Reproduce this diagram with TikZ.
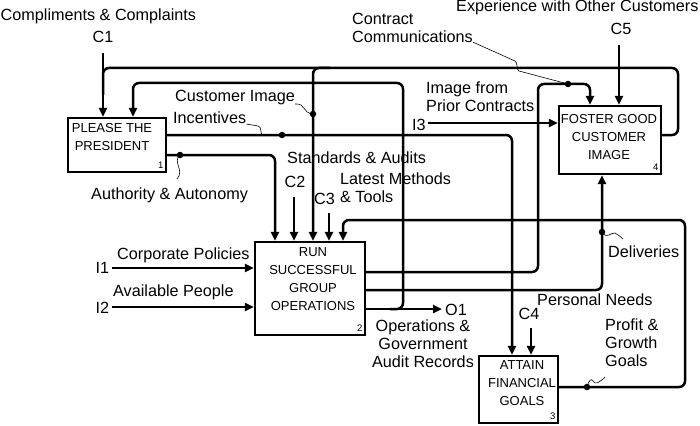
\documentclass[tikz,border=0pt]{standalone}
\usepackage{fontspec}
\setmainfont{Liberation Sans}
\usetikzlibrary{arrows.meta}
\begin{document}
\begin{tikzpicture}[x=1pt,y=-1pt,
  box/.style={draw, line width=2.3pt, inner sep=0pt},
  boxtext/.style={font=\fontsize{13}{18}\selectfont, align=center, inner sep=0pt},
  num/.style={font=\fontsize{9.5}{10}\selectfont, inner sep=0pt, anchor=south east},
  lbl/.style={font=\fontsize{16.2}{18}\selectfont, inner sep=0pt},
  flow/.style={line width=2.5pt, rounded corners=6pt},
  arr/.style={flow, -{Triangle[length=9pt,width=8pt]}},
  squig/.style={line width=0.6pt},
  dot/.style={circle, fill, inner sep=0pt, minimum size=6.5pt},
]
\useasboundingbox (0,0) rectangle (700,425);

% activity boxes
\node[box, minimum width=98pt, minimum height=54pt] (b1) at (117,145) {};
\node[box, minimum width=110pt, minimum height=93pt] (b2) at (310,288.5) {};
\node[box, minimum width=79pt, minimum height=67pt] (b3) at (518.5,389.5) {};
\node[box, minimum width=102pt, minimum height=68pt] (b4) at (610,140) {};

\node[boxtext] (t1) at (112,137) {PLEASE THE\\PRESIDENT};
\node[boxtext] (t2) at (313,279) {RUN\\SUCCESSFUL\\GROUP\\OPERATIONS};
\node[boxtext] (t3) at (522,383) {ATTAIN\\FINANCIAL\\GOALS};
\node[boxtext] (t4) at (609,137.5) {FOSTER GOOD\\CUSTOMER\\IMAGE};

\node[num] (n1) at ([xshift=-3.5pt,yshift=4.5pt]b1.south east) {1};
\node[num] (n2) at ([xshift=-3.5pt,yshift=4.5pt]b2.south east) {2};
\node[num] (n3) at ([xshift=-3.5pt,yshift=4.5pt]b3.south east) {3};
\node[num] (n4) at ([xshift=-3.5pt,yshift=4.5pt]b4.south east) {4};

% labels
\node[lbl, anchor=base west] (lCC) at (0.5,21) {Compliments \& Complaints};
\node[lbl, anchor=base] (C1) at (103,43) {C1};
\node[lbl, anchor=base west] (lCI) at (175,102) {Customer Image};
\node[lbl, anchor=base west] (lInc) at (173,123) {Incentives};
\node[lbl, anchor=base west] (lAA) at (91,199) {Authority \& Autonomy};
\node[lbl, anchor=base west] (lSA) at (287,163) {Standards \& Audits};
\node[lbl, anchor=base] (C2) at (295,187) {C2};
\node[lbl, anchor=north west, align=left] (lLM) at (340,172.3) {Latest Methods\\\& Tools};
\node[lbl, anchor=base west] (C3) at (314,204) {C3};
\node[lbl, anchor=north west, align=left] (lCom) at (352,13.3) {Contract\\Communications};
\node[lbl, anchor=base west] (lEx) at (456,12) {Experience with Other Customers};
\node[lbl, anchor=base] (C5) at (621,35) {C5};
\node[lbl, anchor=north west, align=left] (lIP) at (426,81.3) {Image from\\Prior Contracts};
\node[lbl, anchor=base west] (I3) at (412,130) {I3};
\node[lbl, anchor=base west] (lCP) at (117,259) {Corporate Policies};
\node[lbl, anchor=base west] (I1) at (95.5,273) {I1};
\node[lbl, anchor=base west] (lAP) at (113,296) {Available People};
\node[lbl, anchor=base west] (I2) at (95.5,313) {I2};
\node[lbl, anchor=base west] (O1) at (445,315.5) {O1};
\node[lbl, anchor=north, align=center] (lOG) at (423,319.3) {Operations \&\\Government\\Audit Records};
\node[lbl, anchor=base] (C4) at (529,319) {C4};
\node[lbl, anchor=base west] (lDel) at (608,257) {Deliveries};
\node[lbl, anchor=base west] (lPN) at (537,305) {Personal Needs};
\node[lbl, anchor=north west, align=left] (lPG) at (605,318.3) {Profit \&\\Growth\\Goals};

% free ends of boundary arrows
\coordinate (c1s) at (103,53);
\coordinate (c2s) at (294,197);
\coordinate (c3s) at (329,213);
\coordinate (c4s) at (531,328);
\coordinate (c5s) at (619,45);
\coordinate (i1s) at (112,268);
\coordinate (i2s) at (112,307);
\coordinate (i3s) at (428,123);
\coordinate (o1e) at (442,309);

% boundary arrows
\draw[arr] (c1s) -- (c1s |- b1.north);
\draw[arr] (c2s) -- (c2s |- b2.north);
\draw[arr] (c3s) -- (c3s |- b2.north);
\draw[arr] (c4s) -- (c4s |- b3.north);
\draw[arr] (c5s) -- (c5s |- b4.north);
\draw[arr] (i1s) -- (i1s -| b2.west);
\draw[arr] (i2s) -- (i2s -| b2.west);
\draw[arr] (i3s) -- (i3s -| b4.west);
\draw[arr] (b2.east |- o1e) -- (o1e);

% internal arrows
\draw[flow] (b4.east |- 0,135) -- (678,135) -- (678,68) -- (103,68) -- (103,95);
\draw[arr] (330,68) -- (313,68) -- (313,0 |- b2.north);
\draw[arr] (390,309) -- (403,309) -- (403,83) -- (133,83) -- (133,0 |- b1.north);
\draw[arr] (b1.east |- 0,135) -- (512,135) -- (512,0 |- b3.north);
\draw[arr] (b1.east |- 0,155) -- (275,155) -- (275,0 |- b2.north);
\draw[arr] (b3.east |- 0,387) -- (685,387) -- (685,220) -- (343,220) -- (343,0 |- b2.north);
\draw[arr] (b2.east |- 0,272) -- (538,272) -- (538,84) -- (590,84) -- (590,0 |- b4.north);
\draw[arr] (b2.east |- 0,290) -- (602,290) -- (602,0 |- b4.south);

% dots and squiggles
\node[dot] (d1) at (313,114) {};
\node[dot] (d2) at (282,135) {};
\node[dot] (d3) at (180,155) {};
\node[dot] (d4) at (568,84) {};
\node[dot] (d5) at (602,232) {};
\node[dot] (d6) at (587,387) {};

\draw[squig] (lCI.east |- 0,104) .. controls (306,103) and (302,113) .. (d1.center);
\draw[squig] (lInc.east |- 0,124) -- (258,126) .. controls (262,127) and (260,132) .. (262,135);
\draw[squig] (d3.center) .. controls (172,162) and (185,170) .. (177,179);
\draw[squig] (lCom.south east) ++(0,-1) -- (515,61) .. controls (518,62) and (516,70) .. (519,71) -- (d4.center);
\draw[squig] (d5.center) .. controls (607,240) and (611,232) .. (615,233) .. controls (618,234) and (620,237) .. (623,239);
\draw[squig] (d6.center) .. controls (589,380) and (591,378) .. (593,381) .. controls (595,385) and (599,383) .. (605,377);
\end{tikzpicture}
\end{document}
